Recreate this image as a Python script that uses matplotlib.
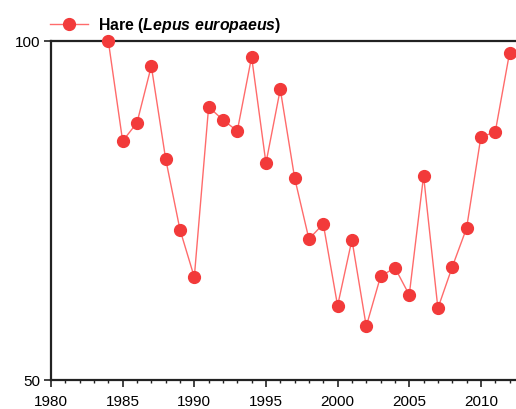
import matplotlib
matplotlib.use("Agg")
import matplotlib.pyplot as plt
from matplotlib.ticker import FixedLocator, MultipleLocator, NullLocator

years = list(range(1984, 2013))
hare_index = [100.0, 81.5, 84.6, 95.0, 78.6, 68.0, 61.7, 87.4, 85.1, 83.2,
              96.8, 77.9, 90.6, 75.6, 66.7, 68.8, 58.2, 66.6, 55.8, 61.8,
              62.9, 59.5, 75.9, 57.9, 63.0, 68.2, 82.2, 83.0, 97.6]
y_ticks = [50, 100]
x_ticks = [1980, 1985, 1990, 1995, 2000, 2005, 2010]

plt.rcParams["font.family"] = ["Liberation Sans", "DejaVu Sans"]
plt.rcParams["mathtext.fontset"] = "custom"
plt.rcParams["mathtext.it"] = "Liberation Sans:italic:bold"
plt.rcParams["mathtext.rm"] = "Liberation Sans:bold"

fig = plt.figure(figsize=(5.16, 4.10), dpi=100)
ax = fig.add_axes([51 / 516, 1 - 381 / 410, 1 - 51 / 516, (381 - 42) / 410])

ax.plot(years, hare_index, color="#ff6b6b", linewidth=1.0,
        marker="o", markersize=8.5, markerfacecolor="#f23a3a",
        markeredgecolor="#f23a3a", clip_on=False, zorder=3,
        label=r"Hare $\mathit{(Lepus\ europaeus)}$")

ax.set_yscale("log")
ax.set_ylim(50, 100)
ax.set_xlim(1980, 2012.45)
ax.yaxis.set_major_locator(FixedLocator(y_ticks))
ax.yaxis.set_minor_locator(NullLocator())
ax.set_yticklabels([str(v) for v in y_ticks])
ax.xaxis.set_major_locator(FixedLocator(x_ticks))
ax.xaxis.set_minor_locator(MultipleLocator(1))

for side in ("left", "bottom", "top"):
    ax.spines[side].set_linewidth(1.6)
    ax.spines[side].set_color("#222222")
ax.spines["right"].set_visible(False)

ax.tick_params(axis="y", which="major", direction="out", length=5,
               width=1.2, labelsize=11, color="#222222", pad=3)
ax.tick_params(axis="x", which="major", direction="out", length=5,
               width=1.2, labelsize=11, color="#222222", pad=5)
ax.tick_params(axis="x", which="minor", direction="out", length=2.5,
               width=1.0, color="#222222")

leg = fig.legend(loc="upper left", bbox_to_anchor=(44 / 516, 1 - 10 / 410),
                 frameon=False, handlelength=2.4, handletextpad=0.6,
                 borderaxespad=0, prop={"weight": "bold", "size": 11.4})

fig.savefig("out.png", dpi=100)
